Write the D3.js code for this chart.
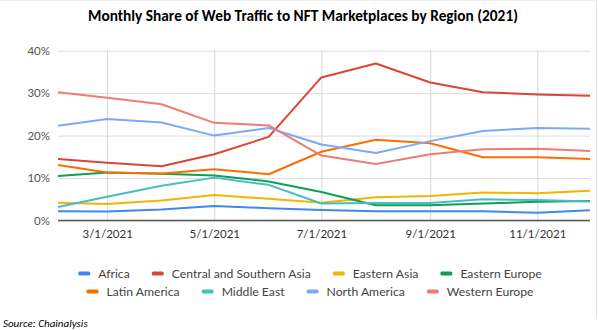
<!DOCTYPE html>
<html>
<head>
<meta charset="utf-8">
<script src="https://cdn.jsdelivr.net/npm/d3@7"></script>
<style>
  html, body { margin: 0; padding: 0; background: #fff; }
  svg { display: block; }
</style>
</head>
<body>
<svg id="chart" width="598" height="330"></svg>
<script>
// Monthly share of web traffic to NFT marketplaces, Feb–Dec 2021 (percent)
const months = ["2021-02-01","2021-03-01","2021-04-01","2021-05-01","2021-06-01","2021-07-01",
                "2021-08-01","2021-09-01","2021-10-01","2021-11-01","2021-12-01"];

const africa          = [2.2, 2.1, 2.6, 3.4, 2.9, 2.5, 2.2, 2.2, 2.2, 1.8, 2.4];
const centralSouthAsia= [14.5, 13.6, 12.8, 15.6, 19.7, 33.7, 37.0, 32.5, 30.2, 29.7, 29.4];
const easternAsia     = [4.2, 3.9, 4.7, 6.0, 5.1, 4.2, 5.5, 5.8, 6.6, 6.4, 7.0];
const easternEurope   = [10.5, 11.3, 11.0, 10.6, 9.2, 6.7, 3.6, 3.6, 4.0, 4.4, 4.6];
const latinAmerica    = [13.1, 11.3, 11.1, 12.1, 10.9, 16.2, 19.0, 18.2, 14.9, 14.9, 14.5];
const middleEast      = [3.2, 5.6, 8.2, 10.1, 8.4, 4.0, 4.1, 4.1, 5.0, 4.8, 4.5];
const northAmerica    = [22.3, 23.9, 23.1, 20.0, 21.8, 17.9, 15.9, 18.7, 21.1, 21.8, 21.6];
const westernEurope   = [30.2, 28.9, 27.4, 23.0, 22.4, 15.3, 13.3, 15.6, 16.8, 16.9, 16.4];

const seriesNames  = ["Africa","Central and Southern Asia","Eastern Asia","Eastern Europe",
                      "Latin America","Middle East","North America","Western Europe"];
const seriesValues = [africa, centralSouthAsia, easternAsia, easternEurope,
                      latinAmerica, middleEast, northAmerica, westernEurope];
const seriesColors = ["#4285F4","#DB4437","#F4B400","#0F9D58","#FF6D00","#46BDC6","#7BAAF7","#F07B72"];

const xTickDates = ["2021-03-01","2021-05-01","2021-07-01","2021-09-01","2021-11-01"];
const yTicks = [0, 10, 20, 30, 40];

const titleText  = "Monthly Share of Web Traffic to NFT Marketplaces by Region (2021)";
const sourceText = "Source: Chainalysis";

const parse = d3.utcParse("%Y-%m-%d");
const dates = months.map(parse);
const fmtTick = d => `${d.getUTCMonth() + 1}/${d.getUTCDate()}/${d.getUTCFullYear()}`;

const svg = d3.select("#chart");
const W = 598, H = 330;
const m = { left: 58, right: 8, top: 50.7, bottom: 109.5 };

const x = d3.scaleUtc().domain(d3.extent(dates)).range([m.left, W - m.right]);
const y = d3.scaleLinear().domain([0, 40]).range([H - m.bottom, m.top]);

const uiFont = "Lato, 'Noto Sans', sans-serif";

// outer frame lines
svg.append("line").attr("x1", 596.5).attr("x2", 596.5).attr("y1", 0).attr("y2", 317)
  .attr("stroke", "#e3e3e3").attr("stroke-width", 1);
svg.append("line").attr("x1", 0).attr("x2", 597).attr("y1", 0.5).attr("y2", 0.5)
  .attr("stroke", "#f0f0f0").attr("stroke-width", 1);

// title, fitted to its width
const title = svg.append("text")
  .attr("x", 303).attr("y", 21)
  .attr("text-anchor", "middle")
  .attr("font-family", "Carlito, 'Open Sans', 'Noto Sans', sans-serif")
  .attr("font-weight", "bold")
  .attr("font-size", 15)
  .attr("fill", "#000")
  .text(titleText);
{
  const target = 430;
  const w = title.node().getComputedTextLength();
  title.attr("font-size", 15 * target / w);
}

// horizontal gridlines + y labels
const yAxis = d3.axisLeft(y).tickValues(yTicks).tickFormat(d => d + "%")
  .tickSize(-(W - m.left - m.right)).tickPadding(8);
const gy = svg.append("g").attr("transform", `translate(${m.left},0)`).call(yAxis);
gy.select(".domain").remove();
gy.selectAll(".tick line").attr("stroke", "#dcdcdc").attr("stroke-width", 1);
gy.selectAll(".tick text").attr("font-family", uiFont).attr("font-size", 11.5)
  .attr("fill", "#555").attr("x", -8);

// vertical gridlines + x labels
const xAxis = d3.axisBottom(x).tickValues(xTickDates.map(parse)).tickFormat(fmtTick)
  .tickSize(-(H - m.bottom - m.top)).tickPadding(9);
const gx = svg.append("g").attr("transform", `translate(0,${H - m.bottom})`).call(xAxis);
gx.select(".domain").remove();
gx.selectAll(".tick line").attr("stroke", "#d6d6d6").attr("stroke-width", 1);
gx.selectAll(".tick text").attr("font-family", uiFont).attr("font-size", 11.5).attr("fill", "#333");

// baseline
svg.append("line")
  .attr("x1", m.left).attr("x2", W - m.right)
  .attr("y1", y(0)).attr("y2", y(0))
  .attr("stroke", "#555").attr("stroke-width", 1.5);

// series lines
const line = d3.line().x((d, i) => x(dates[i])).y(d => y(d));
const gl = svg.append("g");
seriesValues.forEach((vals, i) => {
  gl.append("path")
    .datum(vals)
    .attr("d", line)
    .attr("fill", "none")
    .attr("stroke", seriesColors[i])
    .attr("stroke-width", 2)
    .attr("stroke-linejoin", "round");
});

// legend: two centred rows
const legendRows = [[0, 1, 2, 3], [4, 5, 6, 7]];
const legendY = [273.5, 291.5];
const swatchW = 12, swatchGap = 8, itemGap = 22;
const legendCenter = 310;
legendRows.forEach((row, r) => {
  const g = svg.append("g");
  let cx = 0;
  row.forEach(idx => {
    const item = g.append("g").attr("transform", `translate(${cx},0)`);
    item.append("rect").attr("x", 0).attr("y", legendY[r] - 2)
      .attr("width", swatchW).attr("height", 4).attr("rx", 1.5)
      .attr("fill", seriesColors[idx]);
    const t = item.append("text").attr("x", swatchW + swatchGap).attr("y", legendY[r])
      .attr("dy", "0.35em").attr("font-family", uiFont).attr("font-size", 12.2)
      .attr("fill", "#444").text(seriesNames[idx]);
    cx += swatchW + swatchGap + t.node().getComputedTextLength() + itemGap;
  });
  const total = cx - itemGap;
  g.attr("transform", `translate(${legendCenter - total / 2},0)`);
});

// source note
svg.append("text").attr("x", 3).attr("y", 327)
  .attr("font-family", "Carlito, 'Open Sans', 'Noto Sans', sans-serif")
  .attr("font-style", "italic").attr("font-size", 11).attr("fill", "#000")
  .text(sourceText);
</script>
</body>
</html>
